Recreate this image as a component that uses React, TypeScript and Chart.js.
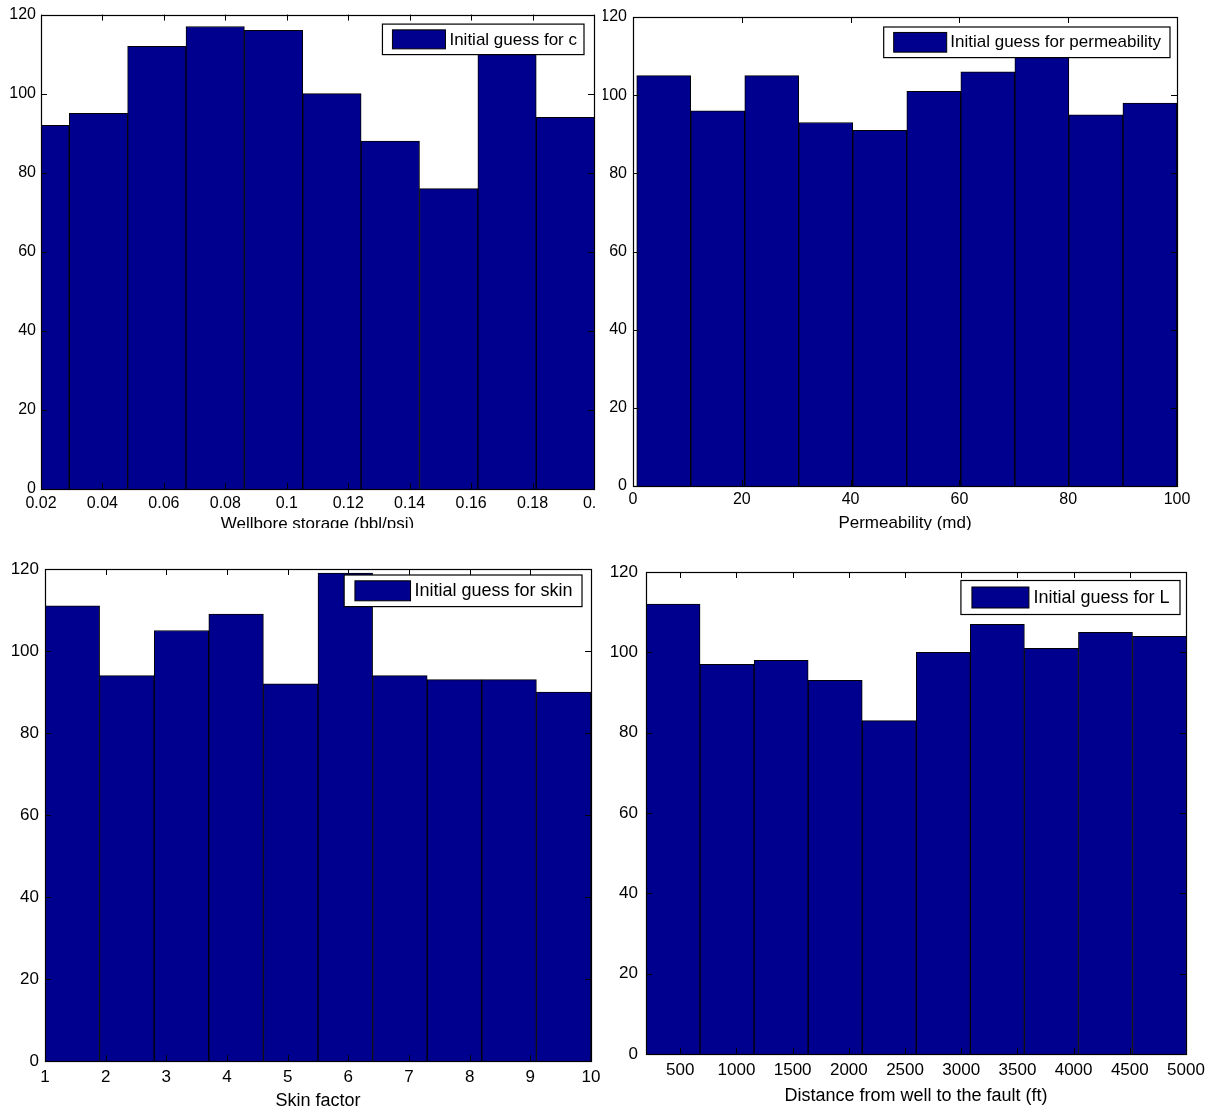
import React, { useEffect, useRef } from "react";
import { Chart, registerables } from "chart.js";

Chart.register(...registerables);

const FONT = "'Liberation Sans', Arial, Helvetica, sans-serif";
const BAR_COLOR = "#00008F";
const TEXT_COLOR = "#000000";

// ---- Panel 1: wellbore storage ----
const storageBins = [0.0197, 0.0387, 0.0577, 0.0767, 0.0957, 0.1147, 0.1337, 0.1527, 0.1717, 0.1907];
const storageCounts = [92, 95, 112, 117, 116, 100, 88, 76, 113, 94];
const storageTicks = [0.02, 0.04, 0.06, 0.08, 0.1, 0.12, 0.14, 0.16, 0.18, 0.2];

// ---- Panel 2: permeability ----
const permBins = [5.65, 15.58, 25.51, 35.44, 45.37, 55.3, 65.23, 75.16, 85.09, 95.02];
const permCounts = [105, 96, 105, 93, 91, 101, 106, 111, 95, 98];
const permTicks = [0, 20, 40, 60, 80, 100];

// ---- Panel 3: skin factor ----
const skinBins = [1.45, 2.35, 3.25, 4.15, 5.05, 5.95, 6.85, 7.75, 8.65, 9.55];
const skinCounts = [111, 94, 105, 109, 92, 119, 94, 93, 93, 90];
const skinTicks = [1, 2, 3, 4, 5, 6, 7, 8, 9, 10];

// ---- Panel 4: distance to fault ----
const distBins = [435.5, 916.5, 1397.5, 1878.5, 2359.5, 2840.5, 3321.5, 3802.5, 4283.5, 4764.5];
const distCounts = [112, 97, 98, 93, 83, 100, 107, 101, 105, 104];
const distTicks = [500, 1000, 1500, 2000, 2500, 3000, 3500, 4000, 4500, 5000];

const countTicks = [0, 20, 40, 60, 80, 100, 120];

type LegendCfg = {
  gapR: number; gapT: number; h: number; padL: number; swW: number; swH: number;
  gap: number; padR: number; fs: number;
};

type PanelCfg = {
  label: string;
  title: string;
  bins: number[];
  counts: number[];
  xTicks: number[];
  xMin: number;
  xMax: number;
  wrap: { x: number; y: number; w: number; h: number };
  area: { L: number; T: number; R: number; B: number };
  tickFs: number;
  xPad: number;
  yPad: number;
  titleFs: number;
  titleC: number;
  legend: LegendCfg;
};

const fmt = (v: number) => String(+Number(v).toFixed(3));

const matlabAxes = {
  id: "matlabAxes",
  afterDatasetsDraw(chart: any, _args: any, opts: any) {
    const ctx = chart.ctx as CanvasRenderingContext2D;
    const { left, right, top, bottom } = chart.chartArea;
    const xs = chart.scales.x;
    const ys = chart.scales.y;
    ctx.save();
    ctx.strokeStyle = "#000";
    ctx.lineWidth = 1.2;
    // box
    ctx.strokeRect(Math.round(left) + 0.5, Math.round(top) + 0.5, Math.round(right) - Math.round(left), Math.round(bottom) - Math.round(top));
    // inward ticks
    const tl = 6;
    ctx.lineWidth = 1;
    ctx.beginPath();
    xs.ticks.forEach((t: any) => {
      const px = Math.round(xs.getPixelForValue(t.value)) + 0.5;
      ctx.moveTo(px, top);
      ctx.lineTo(px, top + tl);
      ctx.moveTo(px, bottom);
      ctx.lineTo(px, bottom - tl);
    });
    ys.ticks.forEach((t: any) => {
      const py = Math.round(ys.getPixelForValue(t.value)) + 0.5;
      ctx.moveTo(left, py);
      ctx.lineTo(left + tl, py);
      ctx.moveTo(right, py);
      ctx.lineTo(right - tl, py);
    });
    ctx.stroke();

    // legend box (MATLAB style, inside axes, upper right)
    const ds = chart.data.datasets[0];
    ctx.font = `${opts.fs}px ${FONT}`;
    const tw = ctx.measureText(ds.label).width;
    const bw = opts.padL + opts.swW + opts.gap + tw + opts.padR;
    const bx = right - opts.gapR - bw;
    const by = top + opts.gapT;
    ctx.fillStyle = "#fff";
    ctx.fillRect(bx, by, bw, opts.h);
    ctx.lineWidth = 1.2;
    ctx.strokeStyle = "#000";
    ctx.strokeRect(bx, by, bw, opts.h);
    const sx = bx + opts.padL;
    const sy = by + (opts.h - opts.swH) / 2;
    ctx.fillStyle = ds.backgroundColor;
    ctx.fillRect(sx, sy, opts.swW, opts.swH);
    ctx.lineWidth = 1;
    ctx.strokeRect(sx, sy, opts.swW, opts.swH);
    ctx.fillStyle = TEXT_COLOR;
    ctx.textBaseline = "middle";
    ctx.textAlign = "left";
    ctx.fillText(ds.label, sx + opts.swW + opts.gap, by + opts.h / 2 + 0.5);
    ctx.restore();
  },
};

const panels: PanelCfg[] = [
  {
    label: "Initial guess for c",
    title: "Wellbore storage (bbl/psi)",
    bins: storageBins,
    counts: storageCounts,
    xTicks: storageTicks,
    xMin: 0.02,
    xMax: 0.2,
    wrap: { x: 0, y: 0, w: 597, h: 528 },
    area: { L: 41, T: 14, R: 594, B: 489 },
    tickFs: 16,
    xPad: 5,
    yPad: 5,
    titleFs: 17,
    titleC: 524.5,
    legend: { gapR: 10, gapT: 9.5, h: 30.5, padL: 10, swW: 53, swH: 19, gap: 4, padR: 7, fs: 17 },
  },
  {
    label: "Initial guess for permeability",
    title: "Permeability (md)",
    bins: permBins,
    counts: permCounts,
    xTicks: permTicks,
    xMin: 0,
    xMax: 100,
    wrap: { x: 603, y: 0, w: 605, h: 530 },
    area: { L: 633, T: 17, R: 1177, B: 486 },
    tickFs: 16,
    xPad: 4,
    yPad: 6,
    titleFs: 17,
    titleC: 523.7,
    legend: { gapR: 7, gapT: 10, h: 30.6, padL: 10, swW: 53, swH: 19.7, gap: 3.6, padR: 9, fs: 17 },
  },
  {
    label: "Initial guess for skin",
    title: "Skin factor",
    bins: skinBins,
    counts: skinCounts,
    xTicks: skinTicks,
    xMin: 1,
    xMax: 10,
    wrap: { x: 0, y: 548, w: 602, h: 563 },
    area: { L: 45, T: 569, R: 591, B: 1061 },
    tickFs: 17,
    xPad: 6,
    yPad: 6,
    titleFs: 18,
    titleC: 1101,
    legend: { gapR: 9, gapT: 6, h: 31.6, padL: 10.8, swW: 55.6, swH: 20, gap: 4, padR: 9.4, fs: 18 },
  },
  {
    label: "Initial guess for L",
    title: "Distance from well to the fault (ft)",
    bins: distBins,
    counts: distCounts,
    xTicks: distTicks,
    xMin: 195,
    xMax: 5000,
    wrap: { x: 603, y: 548, w: 605, h: 563 },
    area: { L: 646, T: 572, R: 1186, B: 1054 },
    tickFs: 17,
    xPad: 6,
    yPad: 8,
    titleFs: 18,
    titleC: 1096,
    legend: { gapR: 6, gapT: 8.5, h: 34, padL: 11, swW: 57, swH: 21, gap: 4.6, padR: 10.4, fs: 18 },
  },
];

function Panel({ cfg }: { cfg: PanelCfg }) {
  const ref = useRef<HTMLCanvasElement>(null);
  const { wrap, area } = cfg;
  const cw = wrap.w + 60;
  const ch = wrap.h + 60;

  useEffect(() => {
    const canvas = ref.current;
    if (!canvas) return;
    const L = area.L - wrap.x;
    const T = area.T - wrap.y;
    const R = area.R - wrap.x;
    const B = area.B - wrap.y;
    const xh = cfg.titleC - wrap.y + 0.6 * cfg.titleFs - B;

    const chart = new Chart(canvas, {
      type: "bar",
      data: {
        datasets: [
          {
            label: cfg.label,
            data: cfg.bins.map((b, i) => ({ x: b, y: cfg.counts[i] })),
            backgroundColor: BAR_COLOR,
            borderColor: "#000",
            borderWidth: 1,
            borderSkipped: "bottom",
            barPercentage: 1,
            categoryPercentage: 1,
            clip: 0,
          } as any,
        ],
      },
      options: {
        animation: false,
        responsive: false,
        maintainAspectRatio: false,
        layout: { padding: { left: 0, top: T, right: cw - R, bottom: ch - B - xh } },
        plugins: {
          legend: { display: false },
          tooltip: { enabled: false },
          matlabAxes: cfg.legend,
        } as any,
        scales: {
          x: {
            type: "linear",
            min: cfg.xMin,
            max: cfg.xMax,
            offset: false,
            grid: { display: false, drawTicks: false, tickLength: 0 },
            border: { display: false },
            afterBuildTicks: (s: any) => {
              s.ticks = cfg.xTicks.map((v) => ({ value: v }));
            },
            afterFit: (s: any) => {
              s.height = xh;
            },
            ticks: {
              padding: cfg.xPad,
              font: { family: FONT, size: cfg.tickFs },
              color: TEXT_COLOR,
              maxRotation: 0,
              minRotation: 0,
              autoSkip: false,
              callback: (v: any) => fmt(v),
            },
            title: {
              display: true,
              text: cfg.title,
              font: { family: FONT, size: cfg.titleFs },
              color: TEXT_COLOR,
              padding: 0,
            },
          },
          y: {
            type: "linear",
            min: 0,
            max: 120,
            grid: { display: false, drawTicks: false, tickLength: 0 },
            border: { display: false },
            afterBuildTicks: (s: any) => {
              s.ticks = countTicks.map((v) => ({ value: v }));
            },
            afterFit: (s: any) => {
              s.width = L;
            },
            ticks: {
              padding: cfg.yPad,
              font: { family: FONT, size: cfg.tickFs },
              color: TEXT_COLOR,
              autoSkip: false,
              callback: (v: any) => fmt(v),
            },
          },
        } as any,
      },
      plugins: [matlabAxes],
    });
    return () => chart.destroy();
  }, []);

  return (
    <div
      style={{
        position: "absolute",
        left: wrap.x,
        top: wrap.y,
        width: wrap.w,
        height: wrap.h,
        overflow: "hidden",
        background: "#fff",
      }}
    >
      <canvas ref={ref} width={cw} height={ch} style={{ display: "block", width: cw, height: ch }} />
    </div>
  );
}

export default function App() {
  return (
    <div
      style={{
        position: "absolute",
        left: 0,
        top: 0,
        width: 1208,
        height: 1111,
        background: "#fff",
        overflow: "hidden",
      }}
    >
      {panels.map((p, i) => (
        <Panel key={i} cfg={p} />
      ))}
    </div>
  );
}
